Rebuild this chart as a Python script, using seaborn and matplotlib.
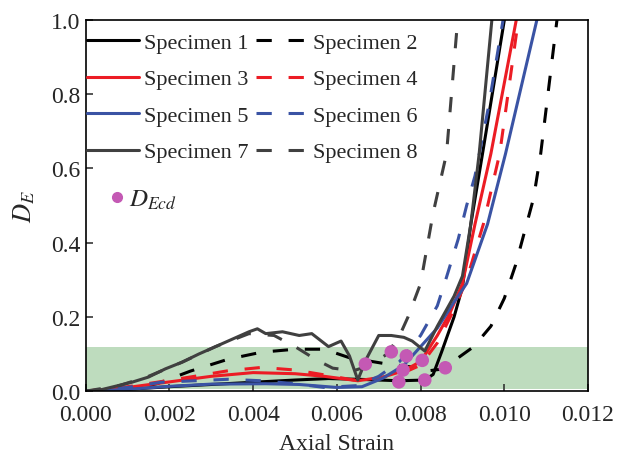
import numpy as np
import matplotlib
matplotlib.use("Agg")
import matplotlib.pyplot as plt
import seaborn as sns
from matplotlib.lines import Line2D

# -----------------------------
# Data
# -----------------------------
s1_x = [0, 0.001, 0.002, 0.003, 0.004, 0.005, 0.0058, 0.0065, 0.0075, 0.0081, 0.0083, 0.0085, 0.0088, 0.0090, 0.0092, 0.00948, 0.01003]
s1_y = [0, 0.005, 0.012, 0.018, 0.024, 0.03, 0.034, 0.032, 0.028, 0.03, 0.045, 0.105, 0.2, 0.28, 0.45, 0.64, 1.02]

s2_x = [0, 0.001, 0.0017, 0.0025, 0.0034, 0.0042, 0.005, 0.0057, 0.0063, 0.0071, 0.0078, 0.0082, 0.00855, 0.0089, 0.00927, 0.00968, 0.0100, 0.01027, 0.0107, 0.01087, 0.01128]
s2_y = [0, 0.005, 0.02, 0.054, 0.086, 0.105, 0.113, 0.113, 0.09, 0.075, 0.065, 0.055, 0.06, 0.09, 0.12, 0.175, 0.25, 0.34, 0.52, 0.64, 1.02]

s3_x = [0, 0.001, 0.002, 0.003, 0.004, 0.005, 0.0057, 0.0065, 0.0071, 0.0076, 0.008, 0.0084, 0.0087, 0.009, 0.0093, 0.00968, 0.01032]
s3_y = [0, 0.01, 0.025, 0.04, 0.05, 0.047, 0.04, 0.028, 0.038, 0.055, 0.08, 0.15, 0.21, 0.29, 0.45, 0.64, 1.02]

s4_x = [0, 0.001, 0.0017, 0.0026, 0.0034, 0.0042, 0.005, 0.0058, 0.0064, 0.007, 0.0076, 0.008, 0.0084, 0.0088, 0.0091, 0.0095, 0.00989, 0.01036]
s4_y = [0, 0.012, 0.024, 0.04, 0.055, 0.064, 0.057, 0.042, 0.03, 0.035, 0.05, 0.07, 0.13, 0.22, 0.3, 0.45, 0.64, 1.02]

s5_x = [0, 0.001, 0.002, 0.003, 0.0043, 0.0051, 0.006, 0.0066, 0.0071, 0.0076, 0.008, 0.0084, 0.0088, 0.0091, 0.0096, 0.01003, 0.01082]
s5_y = [0, 0.005, 0.013, 0.019, 0.02, 0.018, 0.01, 0.012, 0.035, 0.07, 0.12, 0.17, 0.24, 0.29, 0.45, 0.64, 1.02]

s6_x = [0, 0.001, 0.0018, 0.0034, 0.0042, 0.005, 0.0057, 0.0065, 0.007, 0.0075, 0.008, 0.0084, 0.0086, 0.0089, 0.0091, 0.0093, 0.00963, 0.01]
s6_y = [0, 0.01, 0.024, 0.032, 0.028, 0.02, 0.01, 0.015, 0.04, 0.08, 0.15, 0.23, 0.3, 0.41, 0.5, 0.58, 0.77, 1.02]

s7_x = [0, 0.0003, 0.0011, 0.0015, 0.0019, 0.0023, 0.0027, 0.0031, 0.0035, 0.0039, 0.0041, 0.0043, 0.0047, 0.0051, 0.0054, 0.0058, 0.0061, 0.0063, 0.0065, 0.0067, 0.007, 0.0073, 0.0076, 0.0078, 0.0081, 0.0084, 0.0088, 0.009, 0.0092, 0.0094, 0.00972]
s7_y = [0, 0.002, 0.024, 0.038, 0.06, 0.078, 0.1, 0.12, 0.14, 0.16, 0.168, 0.155, 0.16, 0.15, 0.155, 0.12, 0.135, 0.095, 0.03, 0.086, 0.15, 0.15, 0.145, 0.135, 0.108, 0.175, 0.256, 0.31, 0.45, 0.64, 1.02]

s8_x = [0, 0.0008, 0.0015, 0.0023, 0.0031, 0.0039, 0.0045, 0.005, 0.0055, 0.0059, 0.0064, 0.0068, 0.0072, 0.0075, 0.0077, 0.008, 0.0083, 0.00862, 0.0089]
s8_y = [0, 0.015, 0.04, 0.078, 0.12, 0.155, 0.15, 0.12, 0.085, 0.062, 0.055, 0.07, 0.1, 0.15, 0.2, 0.29, 0.48, 0.64, 1.02]

ecd_x = [0.00668, 0.0073, 0.00766, 0.00804, 0.00758, 0.00748, 0.0081, 0.00859]
ecd_y = [0.073, 0.106, 0.095, 0.083, 0.057, 0.025, 0.03, 0.063]

band = (0.005, 0.118)

labels = ["Specimen %d" % i for i in range(1, 9)]
xs = [s1_x, s2_x, s3_x, s4_x, s5_x, s6_x, s7_x, s8_x]
ys = [s1_y, s2_y, s3_y, s4_y, s5_y, s6_y, s7_y, s8_y]
colors = ["#000000", "#000000", "#ec1c24", "#ec1c24", "#3a53a4", "#3a53a4", "#404040", "#404040"]
styles = ["-", "--", "-", "--", "-", "--", "-", "--"]

# -----------------------------
# Style
# -----------------------------
sns.set_style("ticks")
plt.rcParams["font.family"] = ["Liberation Serif", "DejaVu Serif"]
plt.rcParams["mathtext.fontset"] = "stix"
plt.rcParams["lines.dashed_pattern"] = [5, 5.5]
plt.rcParams["xtick.direction"] = "in"
plt.rcParams["ytick.direction"] = "in"

fig = plt.figure(figsize=(6.17, 4.56), dpi=100)
ax = fig.add_axes([0.139, 0.140, 0.814, 0.814])

ax.axhspan(band[0], band[1], color="#bedcbe", zorder=0, lw=0)

handles = []
for x, y, c, ls, lab in zip(xs, ys, colors, styles, labels):
    sns.lineplot(x=x, y=y, ax=ax, color=c, linestyle=ls, lw=2.2,
                 sort=False, estimator=None, zorder=2)
    handles.append(Line2D([], [], color=c, linestyle=ls, lw=2.2, label=lab))

sns.scatterplot(x=ecd_x, y=ecd_y, ax=ax, color="#c459b4", s=95,
                edgecolor="none", zorder=3)

ax.set_xlim(0, 0.012)
ax.set_ylim(0, 1.0)
ax.set_xticks(np.arange(0, 0.0121, 0.002))
ax.set_xticklabels(["%.3f" % v for v in np.arange(0, 0.0121, 0.002)])
ax.set_yticks(np.arange(0, 1.01, 0.2))
ax.set_yticklabels(["%.1f" % v for v in np.arange(0, 1.01, 0.2)])
ax.tick_params(labelsize=17, length=5, width=1.1, top=False, right=False)
ax.tick_params(axis="x", pad=9)
ax.tick_params(axis="y", pad=4)
for sp in ax.spines.values():
    sp.set_linewidth(1.2)
    sp.set_color("black")

ax.set_xlabel("Axial Strain", fontsize=17, labelpad=6)
ax.set_ylabel(r"$D_E$", fontsize=19, labelpad=10)

order = [0, 2, 4, 6, 1, 3, 5, 7]
leg = ax.legend(handles=[handles[i] for i in order], ncol=2, loc="upper left",
                bbox_to_anchor=(-0.021, 1), borderaxespad=0, borderpad=0.55,
                frameon=False, fontsize=16, handlelength=2.3,
                handletextpad=0.25, columnspacing=0.35, labelspacing=0.72)
ax.add_artist(leg)

pt = Line2D([], [], marker="o", color="#c459b4", linestyle="none",
            markersize=7, label=r"$D_{Ecd}$")
ax.legend(handles=[pt], loc="upper left", bbox_to_anchor=(0.022, 0.575),
          frameon=False, fontsize=18, handlelength=0.8, handletextpad=0.1,
          borderaxespad=0)

fig.savefig("out.png", dpi=100)
